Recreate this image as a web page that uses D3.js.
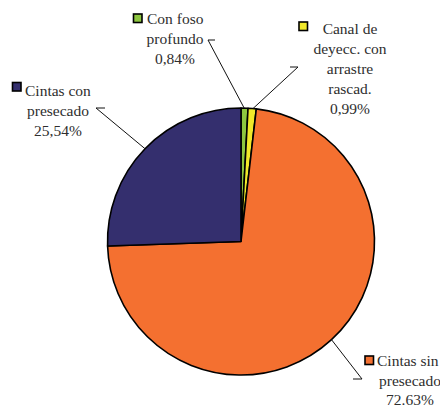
<!DOCTYPE html>
<meta charset="utf-8">
<style>
body { margin: 0; background: #fff; }
svg { font-family: 'Liberation Serif'; }
.leader { fill: none; stroke: #111; stroke-width: 1; }
</style>
<svg width="440" height="408" font-family="Liberation Serif"></svg>
<script src="https://cdn.jsdelivr.net/npm/d3@7"></script>
<script>

// slices, clockwise from 12 o'clock
var categories = ["Con foso profundo", "Canal de deyecc. con arrastre rascad.", "Cintas sin presecado", "Cintas con presecado"];
var values = [0.84, 0.99, 72.63, 25.54];
var valueLabels = ["0,84%", "0,99%", "72.63%", "25,54%"];
var colors = ["#8dc63f", "#f0e82a", "#f47030", "#342f6e"];

// how each label is broken
var labelLines = [
  ["Con foso", "profundo", valueLabels[0]],
  ["Canal de", "deyecc. con", "arrastre", "rascad.", valueLabels[1]],
  ["Cintas sin", "presecado", valueLabels[2]],
  ["Cintas con", "presecado", valueLabels[3]]
];
// where each label sits
var layout = [
  {box: [133.5, 14], first: 147, cx: 175, y0: 24, elbow: [[208, 40], [215, 40]]},
  {box: [299, 22], first: null, cx: 350, y0: 34, elbow: [[298, 67], [290, 67]]},
  {box: [365, 356], first: 377, cx: 410, y0: 366, step: 19.5, elbow: [[362, 379], [353, 379]]},
  {box: [12.5, 82.5], first: 25, cx: 58, y0: 96, elbow: [[96, 108], [105, 108]]}
];
// where leader lines touch the pie, as a fraction along each slice
var touch = [0.45, 0.6, 0.5, 0.5];

var svg = d3.select("svg");
var cx = 241, cy = 241.5, r = 133.5;

var pie = d3.pie().sort(null).value(function(d) { return d; });
var arcs = pie(values);
var arc = d3.arc().innerRadius(0).outerRadius(r);

var g = svg.append("g").attr("transform", "translate(" + cx + "," + cy + ")");
g.selectAll("path")
  .data(arcs)
  .enter().append("path")
    .attr("d", arc)
    .attr("fill", function(d, i) { return colors[i]; })
    .attr("stroke", "#000")
    .attr("stroke-width", 1.6)
    .attr("stroke-linejoin", "round");

// leader lines
arcs.forEach(function(d, i) {
  var a = d.startAngle + (d.endAngle - d.startAngle) * touch[i];
  var px = cx + r * Math.sin(a), py = cy - r * Math.cos(a);
  var pts = [[px, py]].concat(layout[i].elbow);
  svg.append("path")
    .attr("class", "leader")
    .attr("d", d3.line()(pts));
});

// labels
labelLines.forEach(function(lines, i) {
  var L = layout[i];
  var step = L.step || 20;
  lines.forEach(function(t, j) {
    var first = j === 0 && L.first !== null;
    svg.append("text")
      .attr("x", first ? L.first : L.cx)
      .attr("y", L.y0 + j * step)
      .attr("text-anchor", first ? "start" : "middle")
      .style("font-family", "'Liberation Serif'")
      .style("font-size", "15.5px")
      .style("fill", "#2e2e2e")
      .text(t);
  });
  svg.append("rect")
    .attr("x", L.box[0]).attr("y", L.box[1])
    .attr("width", 8.5).attr("height", 8.5)
    .attr("fill", colors[i])
    .attr("stroke", "#000").attr("stroke-width", 1.6);
});

</script>
